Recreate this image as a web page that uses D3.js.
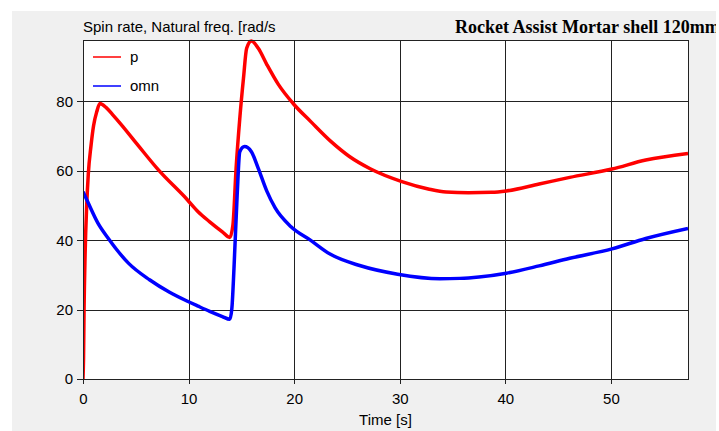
<!DOCTYPE html>
<html>
<head>
<meta charset="utf-8">
<script src="https://cdn.jsdelivr.net/npm/d3@7"></script>
<style>
  body { margin: 0; background: #fff; }
  svg text { font-family: "Liberation Sans", Arial, sans-serif; font-size: 15px; fill: #000; }
  .title-right { font-family: "Liberation Serif", "Times New Roman", serif; font-size: 18px; font-weight: bold; }
</style>
</head>
<body>
<div id="chart"></div>
<script>
// Data__________________________________________________________
const pTime = [0, 0.05, 0.1, 0.2, 0.35, 0.5, 0.75, 1.0, 1.3, 1.6, 2.2, 2.8, 3.6, 5.2, 7.1, 9.9, 10.9, 12.0, 13.2, 13.9,
  14.2, 14.5, 14.85, 15.2, 15.5, 15.95, 16.6, 17.4, 18.5, 19.9, 21.6, 23.5, 25.2, 27.2, 30.2, 32.8, 34.4, 36.5, 38.7,
  40.1, 43.2, 46.1, 50.1, 53.3, 57.3];
const pValues = [0, 6, 20, 36, 50, 59, 67, 73, 77, 79.4, 78.2, 76.2, 73.4, 67.4, 60.4, 51.6, 48.2, 45.3, 42.4, 40.8,
  44.4, 60.7, 75.1, 86.7, 95.3, 97.4, 95.3, 90.7, 84.9, 79.4, 74.1, 68.4, 64.2, 60.6, 56.9, 54.7, 53.9, 53.7, 53.8,
  54.2, 56.2, 58.1, 60.5, 63.1, 65];

const omnTime = [0, 0.5, 1.4, 2.4, 4.3, 6.3, 8.2, 9.9, 10.9, 12.0, 13.2, 13.9, 14.1, 14.3, 14.6, 14.85, 15.3, 15.95,
  16.6, 17.4, 18.2, 19.7, 21.5, 23.4, 26.2, 29.8, 33.8, 35.7, 37.5, 40.1, 43.2, 46.1, 50.1, 53.3, 57.3];
const omnValues = [54, 50.7, 45, 40.5, 33.4, 28.6, 25, 22.4, 21, 19.5, 18, 17.2, 20.4, 31.9, 53, 65.5, 67, 65.5,
  60.7, 54.2, 49.3, 43.9, 40.1, 36, 32.7, 30.2, 28.9, 29.0, 29.4, 30.5, 32.6, 34.8, 37.5, 40.5, 43.4];

const xTicks = [0, 10, 20, 30, 40, 50];
const yTicks = [0, 20, 40, 60, 80];
const xMax = 57.3;
const yMax = 97.7;

const seriesNames = ['p', 'omn'];
const seriesColors = ['#ff0000', '#0000ff'];

// Layout_________________________________________________________
const width = 719;
const height = 431;
const plot = { left: 83, top: 40, right: 688, bottom: 379 };

const svg = d3.select('#chart')
  .append('svg')
  .attr('width', width)
  .attr('height', height);

// gray panel
svg.append('rect')
  .attr('x', 12).attr('y', 11)
  .attr('width', 704).attr('height', 420)
  .attr('fill', '#f0f0f0');

svg.append('rect')
  .attr('x', plot.left).attr('y', plot.top)
  .attr('width', plot.right - plot.left).attr('height', plot.bottom - plot.top)
  .attr('fill', '#fff');

const x = d3.scaleLinear().domain([0, xMax]).range([plot.left, plot.right]);
const y = d3.scaleLinear().domain([0, yMax]).range([plot.bottom, plot.top]);

// Grid___________________________________________________________
const grid = svg.append('g').attr('shape-rendering', 'crispEdges').attr('stroke', '#222').attr('stroke-width', 1);
grid.selectAll('.vgrid')
  .data(xTicks.slice(1))
  .enter()
  .append('line')
  .attr('x1', d => Math.round(x(d)) + 0.5).attr('x2', d => Math.round(x(d)) + 0.5)
  .attr('y1', plot.top).attr('y2', plot.bottom);
grid.selectAll('.hgrid')
  .data(yTicks.slice(1))
  .enter()
  .append('line')
  .attr('y1', d => Math.round(y(d)) + 0.5).attr('y2', d => Math.round(y(d)) + 0.5)
  .attr('x1', plot.left).attr('x2', plot.right);

// Axes___________________________________________________________
const xAxis = svg.append('g')
  .attr('transform', `translate(0, ${plot.bottom})`)
  .call(d3.axisBottom(x).tickValues(xTicks).tickSize(5).tickPadding(9).tickFormat(d3.format('d')));
const yAxis = svg.append('g')
  .attr('transform', `translate(${plot.left}, 0)`)
  .call(d3.axisLeft(y).tickValues(yTicks).tickSize(6).tickPadding(4).tickFormat(d3.format('d')));

[xAxis, yAxis].forEach(ax => {
  ax.select('.domain').remove();
  ax.attr('font-family', null).attr('font-size', null);
  ax.selectAll('line').attr('stroke', '#222').attr('shape-rendering', 'crispEdges');
});

// Lines__________________________________________________________
const line = d3.line()
  .x(d => x(d[0]))
  .y(d => y(d[1]))
  .curve(d3.curveMonotoneX);

const series = [
  d3.zip(pTime, pValues),
  d3.zip(omnTime, omnValues)
];

svg.append('clipPath').attr('id', 'clip')
  .append('rect')
  .attr('x', plot.left).attr('y', plot.top - 2)
  .attr('width', plot.right - plot.left).attr('height', plot.bottom - plot.top + 2);

svg.append('g')
  .attr('clip-path', 'url(#clip)')
  .selectAll('path')
  .data(series)
  .enter()
  .append('path')
  .attr('d', line)
  .attr('fill', 'none')
  .attr('stroke', (d, i) => seriesColors[i])
  .attr('stroke-width', 3.5)
  .attr('stroke-linejoin', 'round');

// frame
svg.append('rect')
  .attr('x', plot.left + 0.5).attr('y', plot.top + 0.5)
  .attr('width', plot.right - plot.left).attr('height', plot.bottom - plot.top)
  .attr('fill', 'none')
  .attr('stroke', '#222')
  .attr('shape-rendering', 'crispEdges');

// Legend_________________________________________________________
const legendItem = svg.selectAll('.legend-item')
  .data(seriesNames)
  .enter()
  .append('g')
  .attr('class', 'legend-item')
  .attr('transform', (d, i) => `translate(93, ${57 + i * 29})`);

legendItem.append('line')
  .attr('x1', 0).attr('x2', 28)
  .attr('stroke', (d, i) => seriesColors[i])
  .attr('stroke-width', 1.5);

legendItem.append('text')
  .attr('x', 37)
  .attr('y', 5)
  .text(d => d);

// Titles_________________________________________________________
svg.append('text')
  .attr('x', plot.left)
  .attr('y', 32)
  .text('Spin rate, Natural freq. [rad/s');

svg.append('clipPath').attr('id', 'clip-title')
  .append('rect')
  .attr('x', 0).attr('y', 0).attr('width', 716).attr('height', 40);

svg.append('text')
  .attr('class', 'title-right')
  .attr('clip-path', 'url(#clip-title)')
  .attr('x', 455)
  .attr('y', 33)
  .text('Rocket Assist Mortar shell 120mm');

svg.append('text')
  .attr('x', (plot.left + plot.right) / 2)
  .attr('y', 425)
  .attr('text-anchor', 'middle')
  .text('Time [s]');
</script>
</body>
</html>
